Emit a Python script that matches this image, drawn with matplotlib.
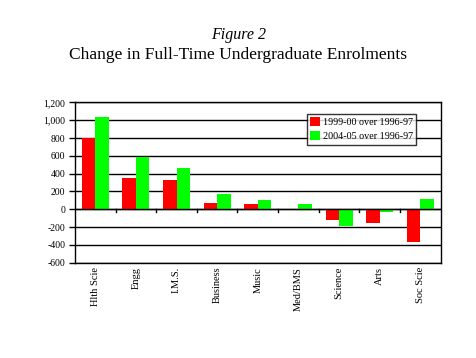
import numpy as np
import matplotlib.pyplot as plt

categories = ['Hlth Scie', 'Engg', 'I.M.S.', 'Business', 'Music', 'Med/BMS', 'Science', 'Arts', 'Soc Scie']
change_1999 = [800, 355, 330, 70, 55, 0, -120, -150, -365]
change_2004 = [1040, 590, 465, 170, 100, 55, -185, -25, 115]
series_labels = ['1999-00 over 1996-97', '2004-05 over 1996-97']
y_ticks = [1200, 1000, 800, 600, 400, 200, 0, -200, -400, -600]
y_tick_labels = ['1,200', '1,000', '800', '600', '400', '200', '0', '-200', '-400', '-600']

plt.rcParams['font.family'] = ['Liberation Serif', 'DejaVu Serif']

fig = plt.figure(figsize=(4.77, 3.58), dpi=100)
ax = fig.add_axes([0.157, 0.266, 0.767, 0.448])

x = np.arange(len(categories))
w = 0.33
ax.bar(x - w / 2, change_1999, width=w, color='#ff0000', label=series_labels[0], zorder=3)
ax.bar(x + w / 2, change_2004, width=w, color='#00ff00', label=series_labels[1], zorder=3)

ax.set_xlim(-0.5, len(categories) - 0.5)
ax.set_ylim(-600, 1200)
ax.set_yticks(y_ticks)
ax.set_yticklabels(y_tick_labels, fontsize=7)
ax.yaxis.grid(True, color='black', linewidth=1, zorder=0)
ax.tick_params(axis='y', length=4, width=1, pad=3)

# x axis drawn at zero, ticks between categories
ax.axhline(0, color='black', linewidth=1, zorder=4)
ax.set_xticks([])
for b in np.arange(0.5, len(categories) - 0.5, 1):
    ax.plot([b, b], [0, -35], color='black', linewidth=1, zorder=4, clip_on=False)
for i, c in enumerate(categories):
    ax.text(i, -645, c, rotation=90, ha='center', va='top', fontsize=7.5)

for s in ax.spines.values():
    s.set_linewidth(1)
    s.set_color('black')

leg = ax.legend(loc='upper left', bbox_to_anchor=(0.634, 0.93), fontsize=7.3, frameon=True,
                fancybox=False, edgecolor='black', handlelength=0.9, handleheight=0.9,
                handletextpad=0.3, borderpad=0.35, labelspacing=0.45, borderaxespad=0)
leg.get_frame().set_linewidth(1)
leg.set_zorder(5)

fig.text(0.5, 1 - 35 / 358, 'Figure 2', ha='center', va='center', fontsize=11.5, style='italic')
fig.text(0.5, 1 - 55 / 358, 'Change in Full-Time Undergraduate Enrolments', ha='center', va='center', fontsize=12.5)

fig.savefig('out.png', dpi=100)
